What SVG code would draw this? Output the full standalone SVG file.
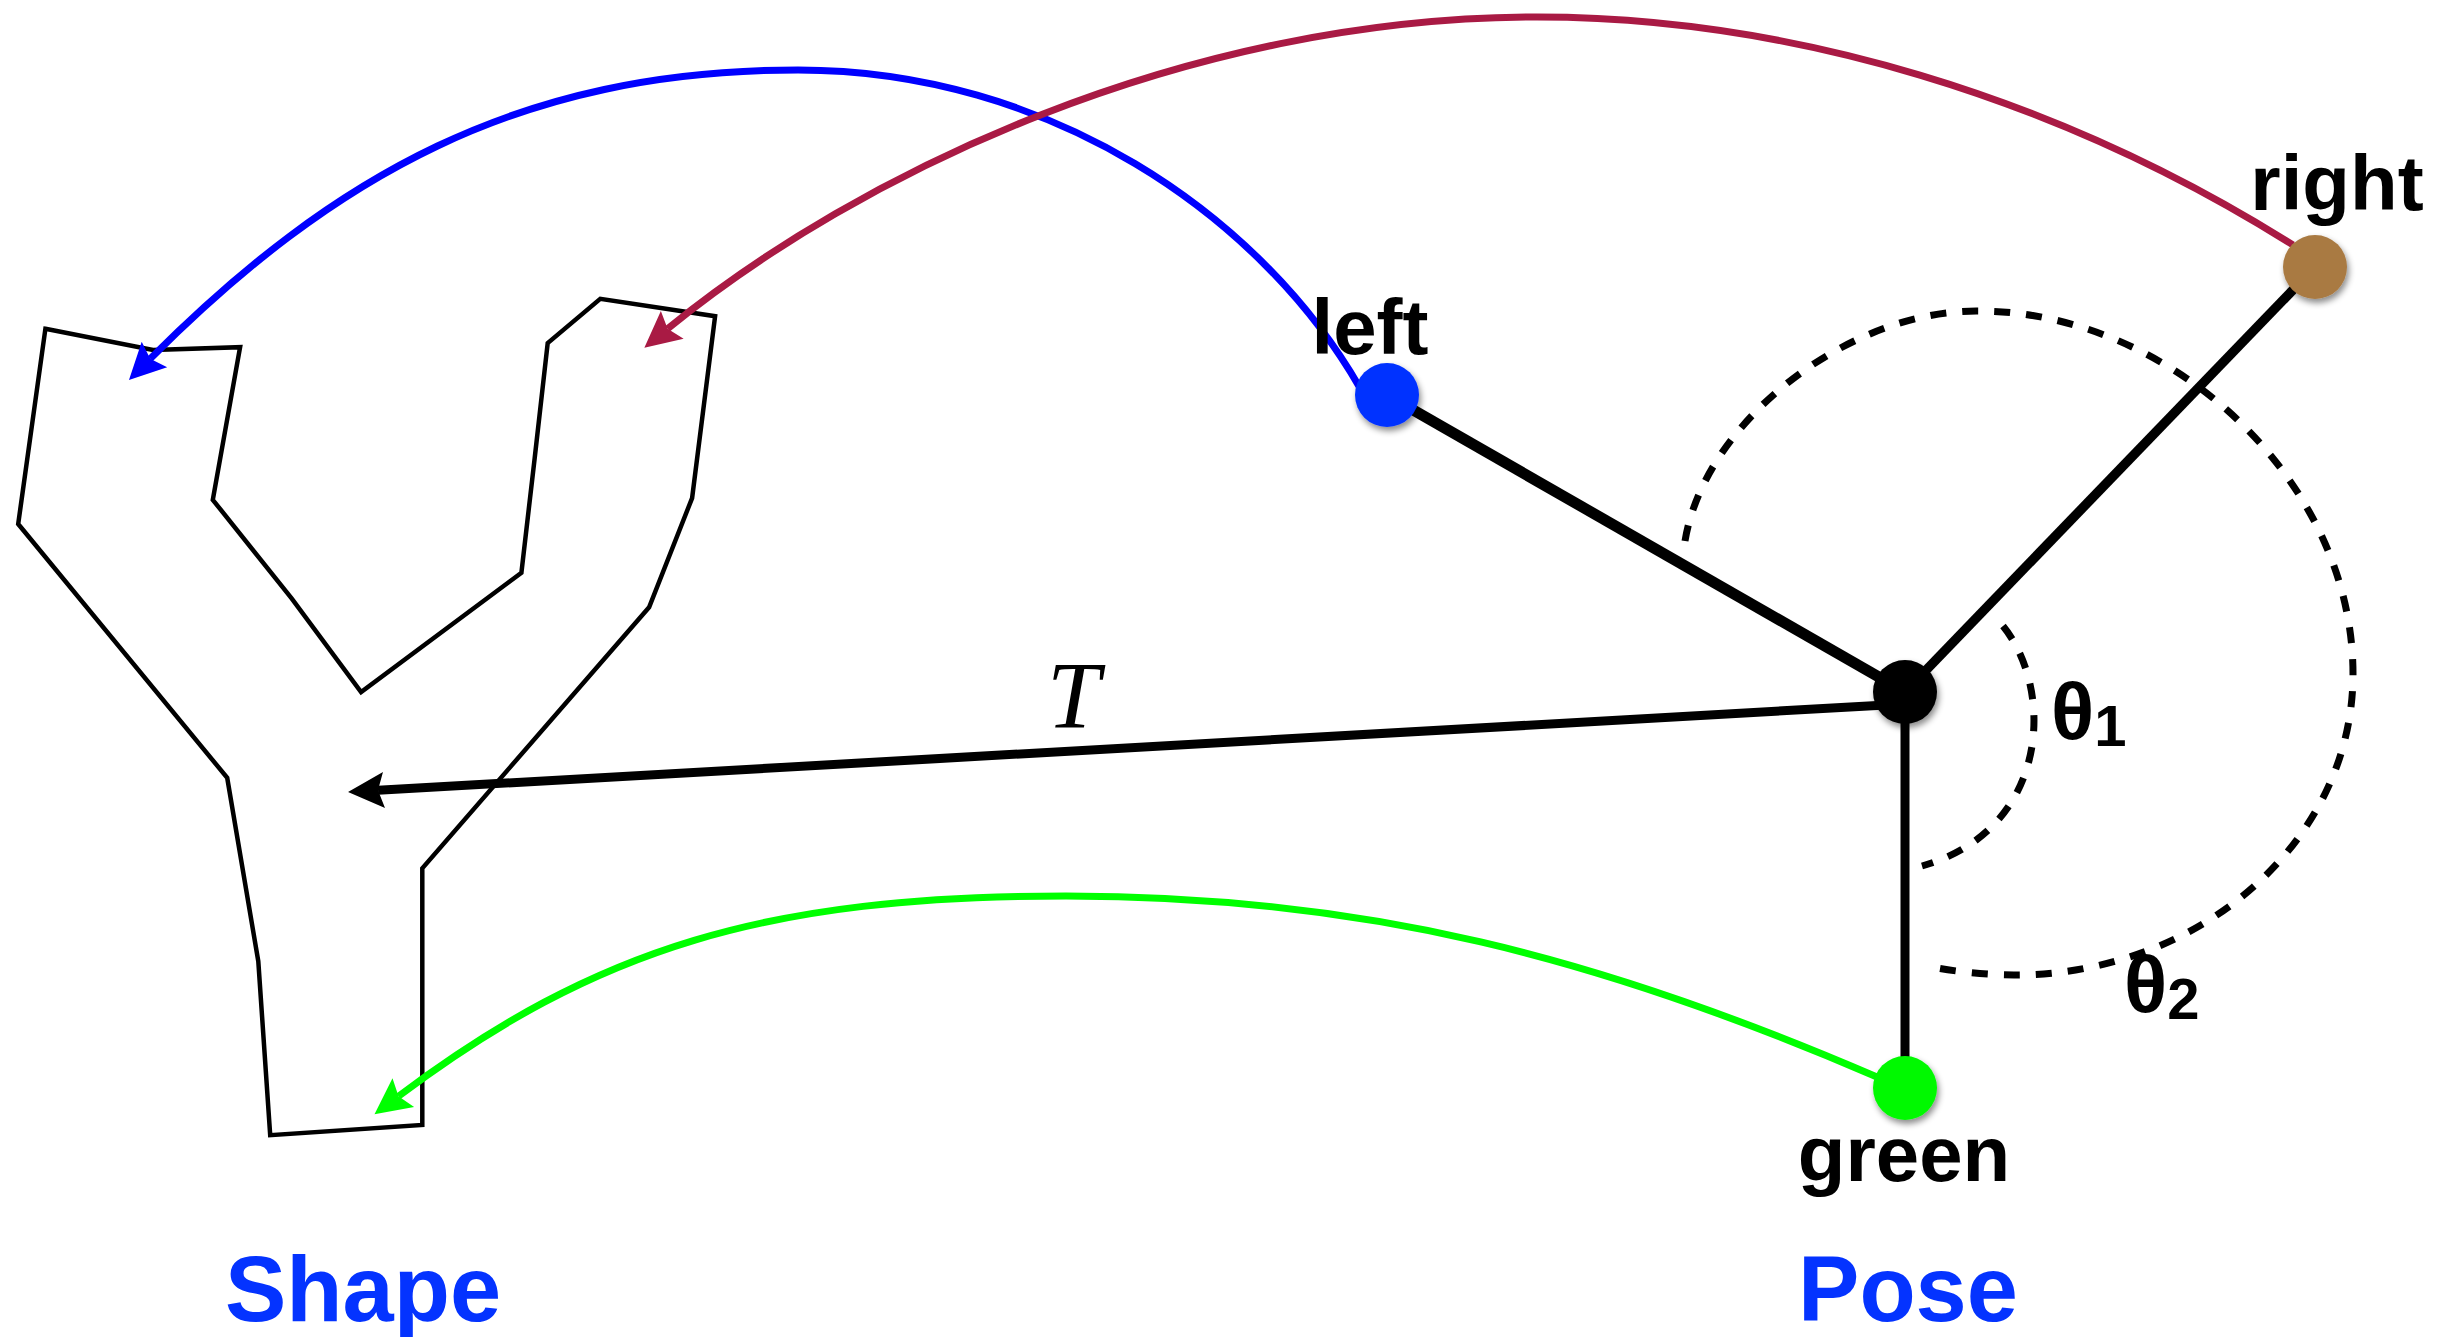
<svg xmlns="http://www.w3.org/2000/svg" width="2458" height="1337" viewBox="0 0 2458 1337">
<style>
.lbl{font-family:"Liberation Sans",Arial,Helvetica,sans-serif;font-weight:bold;fill:#000;text-anchor:middle}
.big{font-family:"Liberation Sans",Arial,Helvetica,sans-serif;font-weight:bold;fill:#0433FF;text-anchor:middle;font-size:92px}
.theta{font-family:"Liberation Sans","DejaVu Sans",Arial,sans-serif;font-weight:bold;fill:#000;font-size:80px}
.curve{fill:none;stroke-width:7}
.pose{stroke:#000;fill:none;stroke-linecap:butt}
.dash{fill:none;stroke:#000;stroke-width:7;stroke-dasharray:16 16}
.dot{filter:url(#sh)}
</style>
<defs>
<filter id="sh" x="-50%" y="-50%" width="200%" height="200%">
<feDropShadow dx="2" dy="4" stdDeviation="3" flood-color="#000" flood-opacity="0.45"/>
</filter>
<marker id="ah-blue" markerUnits="userSpaceOnUse" markerWidth="44" markerHeight="44" viewBox="0 -22 44 44" refX="6" refY="0" orient="auto" overflow="visible"><path d="M0,-18 L36,0 L0,18 L6,0 Z" fill="#0000FF"/></marker>
<marker id="ah-red" markerUnits="userSpaceOnUse" markerWidth="44" markerHeight="44" viewBox="0 -22 44 44" refX="6" refY="0" orient="auto" overflow="visible"><path d="M0,-18 L36,0 L0,18 L6,0 Z" fill="#A91A44"/></marker>
<marker id="ah-green" markerUnits="userSpaceOnUse" markerWidth="44" markerHeight="44" viewBox="0 -22 44 44" refX="6" refY="0" orient="auto" overflow="visible"><path d="M0,-18 L36,0 L0,18 L6,0 Z" fill="#00FF00"/></marker>
<marker id="ah-black" markerUnits="userSpaceOnUse" markerWidth="44" markerHeight="44" viewBox="0 -22 44 44" refX="6" refY="0" orient="auto" overflow="visible"><path d="M0,-18 L36,0 L0,18 L6,0 Z" fill="#000"/></marker>
</defs>
<rect width="2458" height="1337" fill="#fff"/>

<g id="shape-outline">
<polygon points="45.4,328.8 153,350 240.1,347.2 212.8,499.8 291.8,598.6 361.1,692.1 521.4,572.7 534.7,457.9 547.7,343.1 600.3,298.9 715.1,316.2 692.1,498.1 649.1,607.2 422.3,868.3 422.3,1124.9 270.2,1135.2 258.3,961.3 227.2,777.8 18.2,524" fill="none" stroke="#000" stroke-width="4.5" stroke-linejoin="miter"/>
</g>

<g id="connectors">
<path id="arc-theta2" class="dash" d="M1685,541 C1705,420 1850,310 1978,311 C2170,311 2353,480 2353,674 C2353,840 2201,975 2014,975 C1985,975 1950,971 1927,966"/>
<path id="arc-theta1" class="dash" d="M2003,626 C2055,690 2050,830 1922,866"/>
<line id="limb-left" class="pose" x1="1387" y1="395" x2="1905" y2="692" stroke-width="11"/>
<line id="limb-right" class="pose" x1="2315" y1="267" x2="1905" y2="692" stroke-width="9.5"/>
<line id="limb-down" class="pose" x1="1905" y1="692" x2="1905" y2="1088" stroke-width="9"/>
<path id="arrow-T" d="M1895,704.5 L378,790.3" stroke="#000" stroke-width="9" fill="none" marker-end="url(#ah-black)"/>
<path id="arrow-left" class="curve" stroke="#0000FF" d="M1360,388 C1260,214 1048,70 798,70 C518,70 332.6,176.4 150.2,358.8" marker-end="url(#ah-blue)"/>
<path id="arrow-right" class="curve" stroke="#A91A44" d="M2293,245 C2056,95.8 1787,17 1537,17 C1187,17 859.8,171.8 667.6,328.7" marker-end="url(#ah-red)"/>
<path id="arrow-green" class="curve" stroke="#00FF00" d="M1877,1077 C1601.6,958.2 1366,896 1066,896 C766,896 596.9,947.4 398.5,1096.2" marker-end="url(#ah-green)"/>
</g>

<g id="node-left">
<circle class="dot" cx="1387" cy="395" r="32" fill="#0433FF"/>
<text class="lbl" x="1370" y="354" font-size="78">left</text>
</g>
<g id="node-right">
<circle class="dot" cx="2315" cy="267" r="32" fill="#A97A43"/>
<text class="lbl" x="2337" y="210" font-size="78">right</text>
</g>
<g id="node-center">
<circle class="dot" cx="1905" cy="692" r="32" fill="#000"/>
</g>
<g id="node-green">
<circle class="dot" cx="1905" cy="1088" r="32" fill="#00F900"/>
<text class="lbl" x="1904" y="1181" font-size="78">green</text>
</g>
<g id="label-theta1">
<text class="theta" x="2051" y="739">θ<tspan font-size="58" dy="7">1</tspan></text>
</g>
<g id="label-theta2">
<text class="theta" x="2124" y="1012">θ<tspan font-size="58" dy="7">2</tspan></text>
</g>
<g id="label-T">
<text x="1047" y="728" font-family="'Liberation Serif','Times New Roman',serif" font-style="italic" font-size="95" fill="#000">T</text>
</g>
<g id="label-shape">
<text class="big" x="363" y="1321">Shape</text>
</g>
<g id="label-pose">
<text class="big" x="1908" y="1321">Pose</text>
</g>
</svg>
